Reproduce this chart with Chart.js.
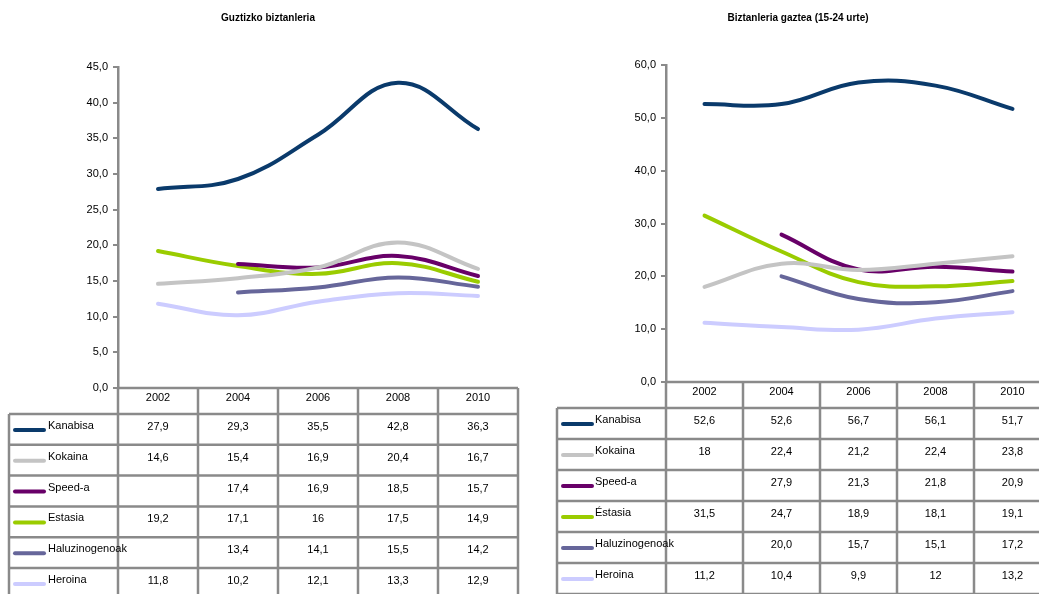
<!DOCTYPE html>
<html>
<head>
<meta charset="utf-8">
<script src="https://cdn.jsdelivr.net/npm/chart.js@4/dist/chart.umd.min.js"></script>
<style>
  html, body { margin: 0; padding: 0; width: 1039px; height: 594px; overflow: hidden; background: #fff; }
  canvas { position: absolute; top: 0; }
  #c1 { left: 0; }
  #c2 { left: 530px; }
</style>
</head>
<body>
<canvas id="c1" width="530" height="594"></canvas>
<canvas id="c2" width="530" height="594"></canvas>
<script>
// ---- data ----
const years = ['2002', '2004', '2006', '2008', '2010'];
const seriesNames = ['Kanabisa', 'Kokaina', 'Speed-a', 'Estasia', 'Haluzinogenoak', 'Heroina'];
const seriesNamesYouth = ['Kanabisa', 'Kokaina', 'Speed-a', 'Éstasia', 'Haluzinogenoak', 'Heroina'];
const seriesColors = ['#0a3a6b', '#c4c4c4', '#680068', '#9acc00', '#66669a', '#ccccff'];

const titleTotal = 'Guztizko biztanleria';
const titleYouth = 'Biztanleria gaztea (15-24 urte)';

const totalTicks = { min: 0, max: 45, step: 5 };
const youthTicks = { min: 0, max: 60, step: 10 };

// Total population (table cell texts)
const totKanabisa = ['27,9', '29,3', '35,5', '42,8', '36,3'];
const totKokaina  = ['14,6', '15,4', '16,9', '20,4', '16,7'];
const totSpeed    = ['', '17,4', '16,9', '18,5', '15,7'];
const totEstasia  = ['19,2', '17,1', '16', '17,5', '14,9'];
const totHaluz    = ['', '13,4', '14,1', '15,5', '14,2'];
const totHeroina  = ['11,8', '10,2', '12,1', '13,3', '12,9'];

// Young population 15-24
const youKanabisa = ['52,6', '52,6', '56,7', '56,1', '51,7'];
const youKokaina  = ['18', '22,4', '21,2', '22,4', '23,8'];
const youSpeed    = ['', '27,9', '21,3', '21,8', '20,9'];
const youEstasia  = ['31,5', '24,7', '18,9', '18,1', '19,1'];
const youHaluz    = ['', '20,0', '15,7', '15,1', '17,2'];
const youHeroina  = ['11,2', '10,4', '9,9', '12', '13,2'];

const totalRows = [totKanabisa, totKokaina, totSpeed, totEstasia, totHaluz, totHeroina];
const youthRows = [youKanabisa, youKokaina, youSpeed, youEstasia, youHaluz, youHeroina];

// ---- helpers ----
const toNum = s => (s === '' ? null : parseFloat(s.replace(',', '.')));
const FONT = '"Liberation Sans", Arial, sans-serif';
const GRID = '#8a8a8a';

const tablePlugin = {
  id: 'dataTable',
  afterDraw(chart, args, opts) {
    const ctx = chart.ctx;
    const area = chart.chartArea;
    const xs = chart.scales.x;
    const n = years.length;
    const band = (area.right - area.left) / n;
    const headTop = area.bottom;
    const headBot = headTop + opts.headerH;
    const rows = opts.rows;
    ctx.save();
    // title
    ctx.fillStyle = '#000';
    ctx.font = 'bold 10px ' + FONT;
    ctx.textAlign = 'center';
    ctx.textBaseline = 'middle';
    ctx.fillText(opts.title, opts.titleX, 18);

    ctx.strokeStyle = GRID;
    ctx.lineWidth = 2.5;
    // header row lines
    ctx.beginPath();
    ctx.moveTo(area.left, headTop); ctx.lineTo(area.right, headTop);
    ctx.moveTo(opts.tableLeft, headBot); ctx.lineTo(area.right, headBot);
    for (let r = 1; r <= rows.length; r++) {
      const y = headBot + r * opts.rowH;
      ctx.moveTo(opts.tableLeft, y); ctx.lineTo(area.right, y);
    }
    for (let i = 0; i <= n; i++) {
      const x = area.left + i * band;
      ctx.moveTo(x, headTop); ctx.lineTo(x, headBot + rows.length * opts.rowH + 2);
    }
    ctx.moveTo(opts.tableLeft, headBot);
    ctx.lineTo(opts.tableLeft, headBot + rows.length * opts.rowH + 2);
    ctx.stroke();

    // header labels
    ctx.font = '11px ' + FONT;
    ctx.fillStyle = '#000';
    ctx.textAlign = 'center';
    years.forEach((yr, i) => {
      ctx.fillText(yr, xs.getPixelForValue(i), headTop + 10);
    });

    // data rows
    rows.forEach((row, r) => {
      const top = headBot + r * opts.rowH;
      // legend symbol
      ctx.strokeStyle = seriesColors[r];
      ctx.lineWidth = 4;
      ctx.lineCap = 'round';
      ctx.beginPath();
      ctx.moveTo(opts.symX0, top + 16);
      ctx.lineTo(opts.symX1, top + 16);
      ctx.stroke();
      ctx.fillStyle = '#000';
      ctx.textAlign = 'left';
      ctx.fillText(opts.names[r], opts.labelX, top + 12);
      ctx.textAlign = 'center';
      row.forEach((v, i) => {
        if (v !== '') ctx.fillText(v, xs.getPixelForValue(i), top + 13);
      });
    });
    ctx.restore();
  }
};

function makeChart(id, rows, names, ticks, tbl, pad) {
  return new Chart(document.getElementById(id), {
    type: 'line',
    data: {
      labels: years,
      datasets: rows.map((row, r) => ({
        label: names[r],
        data: row.map(toNum),
        borderColor: seriesColors[r],
        backgroundColor: seriesColors[r],
        borderWidth: 4,
        borderCapStyle: 'round',
        pointRadius: 0,
        pointHoverRadius: 0,
        tension: 0.4,
        fill: false
      }))
    },
    options: {
      responsive: false,
      animation: false,
      events: [],
      layout: { padding: pad },
      plugins: {
        legend: { display: false },
        title: { display: false },
        tooltip: { enabled: false },
        dataTable: tbl
      },
      scales: {
        x: { display: false, offset: true },
        y: {
          min: ticks.min, max: ticks.max,
          afterFit: ax => { ax.width = 50; },
          border: { display: true, color: GRID, width: 2.5 },
          grid: { drawOnChartArea: false, drawTicks: true, tickLength: 5, color: GRID, lineWidth: 2 },
          ticks: {
            stepSize: ticks.step,
            padding: 5,
            color: '#000',
            font: { family: FONT, size: 11 },
            callback: v => v.toFixed(1).replace('.', ',')
          }
        }
      }
    },
    plugins: [tablePlugin]
  });
}

makeChart('c1', totalRows, seriesNames, totalTicks,
  { title: titleTotal, titleX: 268, headerH: 26, rowH: 30.8, tableLeft: 9,
    symX0: 15, symX1: 44, labelX: 48, rows: totalRows, names: seriesNames },
  { left: 68, right: 12, top: 67, bottom: 206 });

makeChart('c2', youthRows, seriesNamesYouth, youthTicks,
  { title: titleYouth, titleX: 268, headerH: 26, rowH: 31, tableLeft: 27,
    symX0: 33, symX1: 62, labelX: 65, rows: youthRows, names: seriesNamesYouth },
  { left: 86, right: 9, top: 65, bottom: 212 });
</script>
</body>
</html>
